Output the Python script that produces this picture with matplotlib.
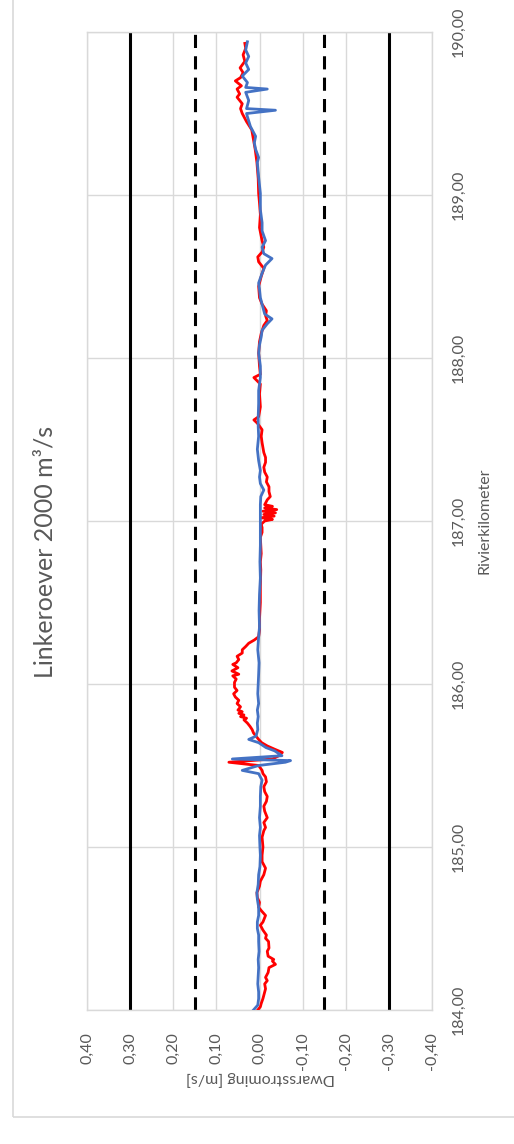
import matplotlib
matplotlib.use("Agg")
import matplotlib.pyplot as plt
from matplotlib.patches import Rectangle

plt.rcParams['font.family'] = ['Lato', 'DejaVu Sans']

# River kilometre (vertical) and cross-flow velocity in m/s (horizontal)
blue_km = [184.00, 184.03, 184.07, 184.11, 184.16, 184.21, 184.26, 184.31, 184.36, 184.42,
           184.46, 184.50, 184.54, 184.58, 184.63, 184.68, 184.72, 184.77, 184.83, 184.88,
           184.95, 185.00, 185.07, 185.12, 185.18, 185.25, 185.31, 185.37, 185.41, 185.45,
           185.47, 185.50, 185.52, 185.53, 185.54, 185.56, 185.59, 185.61, 185.64, 185.66,
           185.68, 185.72, 185.76, 185.80, 185.84, 185.88, 185.94, 186.00, 186.06, 186.13,
           186.21, 186.29, 186.35, 186.45, 186.55, 186.65, 186.75, 186.85, 186.95, 187.05,
           187.10, 187.15, 187.19, 187.23, 187.27, 187.31, 187.37, 187.44, 187.52, 187.58,
           187.64, 187.72, 187.80, 187.88, 187.95, 188.03, 188.08, 188.13, 188.17, 188.21,
           188.24, 188.27, 188.31, 188.37, 188.42, 188.46, 188.52, 188.57, 188.61, 188.64,
           188.68, 188.72, 188.78, 188.83, 188.91, 189.01, 189.11, 189.20, 189.23, 189.28,
           189.32, 189.36, 189.42, 189.48, 189.50, 189.52, 189.53, 189.58, 189.63, 189.65,
           189.66, 189.69, 189.73, 189.77, 189.81, 189.85, 189.89, 189.94]
blue_v = [0.014, 0.004, 0.002, 0.002, 0.004, 0.003, 0.002, 0.003, 0.001, 0.002,
          0.002, 0.005, 0.005, 0.002, 0.002, 0.005, 0.006, 0.003, 0.002, -0.001,
          -0.002, -0.001, 0.000, -0.002, 0.000, -0.002, -0.002, -0.003, -0.006, 0.002,
          0.040, 0.002, -0.060, -0.072, 0.063, -0.052, -0.035, -0.015, 0.002, 0.025,
          0.008, 0.004, 0.005, 0.003, 0.005, 0.002, 0.004, 0.003, 0.002, 0.001,
          0.004, 0.002, 0.000, 0.001, 0.000, -0.002, -0.001, -0.002, -0.002, -0.002,
          -0.002, -0.003, -0.010, -0.002, 0.000, -0.002, 0.002, 0.005, 0.002, 0.003,
          0.003, 0.002, 0.002, -0.002, -0.002, 0.002, 0.000, -0.004, -0.006, -0.018,
          -0.029, -0.012, -0.008, -0.002, 0.000, 0.002, -0.006, -0.014, -0.029, -0.010,
          -0.006, -0.014, -0.006, -0.006, -0.002, -0.002, 0.002, 0.005, 0.002, 0.009,
          0.012, 0.009, 0.021, 0.028, 0.030, -0.037, 0.030, 0.025, 0.032, -0.018,
          0.032, 0.028, 0.040, 0.025, 0.032, 0.025, 0.032, 0.028]

red_km = [184.00, 184.02, 184.04, 184.07, 184.09, 184.11, 184.13, 184.16, 184.18, 184.20,
          184.23, 184.26, 184.28, 184.30, 184.31, 184.33, 184.36, 184.38, 184.42, 184.44,
          184.46, 184.49, 184.52, 184.54, 184.58, 184.61, 184.63, 184.66, 184.69, 184.72,
          184.76, 184.79, 184.83, 184.87, 184.91, 184.95, 185.00, 185.06, 185.10, 185.12,
          185.15, 185.18, 185.22, 185.25, 185.28, 185.31, 185.34, 185.37, 185.40, 185.43,
          185.45, 185.47, 185.50, 185.52, 185.54, 185.56, 185.58, 185.60, 185.62, 185.64,
          185.66, 185.67, 185.70, 185.72, 185.74, 185.76, 185.78, 185.79, 185.80, 185.81,
          185.82, 185.83, 185.84, 185.86, 185.88, 185.90, 185.92, 185.94, 185.96, 185.98,
          186.01, 186.03, 186.05, 186.06, 186.08, 186.10, 186.12, 186.13, 186.15, 186.17,
          186.19, 186.21, 186.23, 186.25, 186.27, 186.29, 186.33, 186.40, 186.50, 186.60,
          186.70, 186.75, 186.80, 186.85, 186.90, 186.93, 186.96, 186.98, 187.00, 187.01,
          187.02, 187.03, 187.04, 187.05, 187.06, 187.07, 187.08, 187.09, 187.10, 187.13,
          187.15, 187.18, 187.21, 187.24, 187.27, 187.30, 187.33, 187.36, 187.39, 187.42,
          187.45, 187.48, 187.52, 187.56, 187.60, 187.62, 187.64, 187.70, 187.78, 187.84,
          187.88, 187.90, 187.95, 188.03, 188.10, 188.15, 188.20, 188.23, 188.26, 188.29,
          188.33, 188.37, 188.44, 188.50, 188.55, 188.59, 188.62, 188.65, 188.68, 188.72,
          188.80, 188.88, 188.95, 189.01, 189.10, 189.20, 189.28, 189.34, 189.40, 189.45,
          189.50, 189.53, 189.56, 189.60, 189.62, 189.65, 189.67, 189.70, 189.72, 189.75,
          189.78, 189.82, 189.86, 189.90, 189.93]
red_v = [0.004, -0.002, -0.004, -0.008, -0.010, -0.012, -0.014, -0.012, -0.018, -0.014,
         -0.020, -0.022, -0.037, -0.030, -0.033, -0.020, -0.018, -0.022, -0.021, -0.014,
         -0.016, -0.008, -0.002, -0.008, -0.014, -0.004, 0.002, 0.000, 0.005, 0.006,
         0.000, -0.002, -0.010, -0.014, -0.006, -0.006, -0.008, -0.006, -0.010, -0.014,
         -0.010, -0.018, -0.012, -0.010, -0.016, -0.018, -0.012, -0.010, -0.016, -0.014,
         -0.008, -0.006, 0.002, 0.071, -0.030, -0.045, -0.053, -0.035, -0.018, -0.005,
         0.002, 0.005, 0.014, 0.017, 0.022, 0.028, 0.036, 0.030, 0.044, 0.036,
         0.048, 0.040, 0.050, 0.044, 0.052, 0.048, 0.056, 0.060, 0.052, 0.058,
         0.058, 0.054, 0.062, 0.048, 0.064, 0.050, 0.062, 0.054, 0.048, 0.052,
         0.040, 0.040, 0.032, 0.025, 0.012, 0.002, 0.000, 0.000, -0.002, -0.002,
         -0.003, -0.002, -0.004, -0.003, -0.002, -0.006, -0.006, -0.004, -0.012, -0.030,
         -0.004, -0.034, -0.010, -0.037, -0.008, -0.040, -0.012, -0.030, -0.012, -0.018,
         -0.025, -0.022, -0.022, -0.016, -0.018, -0.012, -0.010, -0.014, -0.014, -0.010,
         -0.008, -0.006, -0.004, -0.006, 0.005, 0.013, 0.002, -0.002, 0.000, -0.002,
         0.013, -0.002, 0.000, 0.002, 0.000, -0.004, -0.010, -0.018, -0.014, -0.016,
         -0.006, 0.000, 0.002, -0.004, -0.010, 0.002, 0.004, -0.006, -0.010, -0.006,
         0.000, -0.002, 0.000, 0.002, 0.003, 0.006, 0.010, 0.014, 0.018, 0.030,
         0.040, 0.044, 0.040, 0.052, 0.046, 0.052, 0.042, 0.056, 0.044, 0.038,
         0.045, 0.034, 0.038, 0.032, 0.034]

# Limits: warning (dashed) and maximum (solid)
limit_warn = 0.15
limit_max = 0.30

velocity_ticks = [0.40, 0.30, 0.20, 0.10, 0.00, -0.10, -0.20, -0.30, -0.40]
km_ticks = [184, 185, 186, 187, 188, 189, 190]

title_text = "Linkeroever 2000 m³/s"
km_label = "Rivierkilometer"
velocity_label = "Dwarsstroming [m/s]"

text_color = "#595959"
grid_color = "#d9d9d9"

W, H = 514, 1144
fig = plt.figure(figsize=(W / 100, H / 100), dpi=100)
fig.patch.set_facecolor("white")

# Chart-area border
fig.patches.append(Rectangle((13 / W, (H - 1117) / H), 1.2, 1.2,
                             transform=fig.transFigure, fill=False,
                             edgecolor=grid_color, linewidth=1.2))

ax = fig.add_axes([87 / W, (H - 1010) / H, (432 - 87) / W, (1010 - 32) / H])
ax.set_xlim(0.40, -0.40)
ax.set_ylim(184, 190)

ax.set_xticks(velocity_ticks)
ax.set_yticks(km_ticks)
ax.grid(True, color=grid_color, linewidth=1.0)
ax.set_axisbelow(True)
for s in ax.spines.values():
    s.set_color(grid_color)
    s.set_linewidth(1.0)

for v in (limit_max, -limit_max):
    ax.axvline(v, color="black", linewidth=2.2, zorder=2)
for v in (limit_warn, -limit_warn):
    ax.axvline(v, color="black", linewidth=2.2, dashes=(4.3, 2.7), zorder=2)

ax.plot(red_v, red_km, color="#ff0000", linewidth=2.0, zorder=3)
ax.plot(blue_v, blue_km, color="#4472c4", linewidth=2.0, zorder=4)

ax.tick_params(axis="both", length=0, colors=text_color, labelsize=11.5)
ax.set_xticklabels([f"{t:.2f}".replace(".", ",") for t in velocity_ticks],
                   rotation=90, va="top")
ax.tick_params(axis="x", pad=16)
ax.yaxis.tick_right()
ax.set_yticklabels([f"{t:.2f}".replace(".", ",") for t in km_ticks],
                   rotation=90, va="center")
ax.tick_params(axis="y", pad=14)

fig.text(485 / W, 1 - 521 / H, km_label, rotation=90, ha="center", va="center",
         color=text_color, fontsize=11.5)
fig.text(260 / W, 1 - 1078 / H, velocity_label, rotation=180, ha="center", va="center",
         color=text_color, fontsize=11.5)
fig.text(45 / W, 1 - 552 / H, title_text, rotation=90, ha="center", va="center",
         color=text_color, fontsize=18)

fig.savefig("out.png", dpi=100, facecolor="white")
